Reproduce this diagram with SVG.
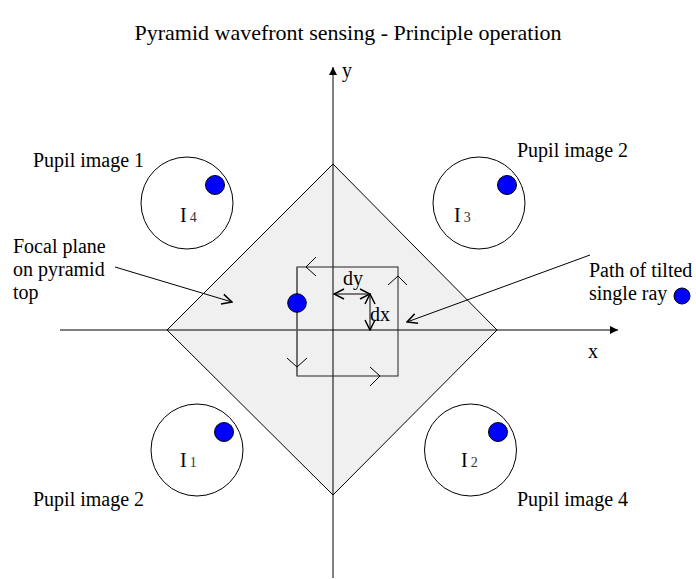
<svg xmlns="http://www.w3.org/2000/svg" width="696" height="579" viewBox="0 0 696 579">
<style>
text{font-family:"Liberation Serif","Times New Roman",serif;font-size:20px;fill:#000}
.title{font-size:22px}
.sub{font-size:14px;fill:#333}
.ln{stroke:#000;stroke-width:1;fill:none}
.dot{fill:#0000ff;stroke:#000;stroke-width:1}
.ring{fill:#fff;stroke:#000;stroke-width:1}
</style>
<defs>
<marker id="tri" viewBox="0 0 10 10" refX="10" refY="5" markerWidth="11" markerHeight="8" markerUnits="userSpaceOnUse" orient="auto">
<path d="M0,0L10,5L0,10Z" fill="#000"/>
</marker>
<marker id="open" viewBox="0 0 12 12" refX="11" refY="6" markerWidth="12" markerHeight="12" markerUnits="userSpaceOnUse" orient="auto-start-reverse">
<path d="M1,1L11,6L1,11" fill="none" stroke="#000" stroke-width="1.5"/>
</marker>
</defs>
<text class="title" x="348" y="40" text-anchor="middle">Pyramid wavefront sensing - Principle operation</text>
<g id="pyramid">
<path d="M333,164L497,330L333,495L167,330Z" fill="#f0f0f0" stroke="#000" stroke-width="1"/>
</g>
<g id="pupil1">
<circle class="ring" cx="187" cy="203" r="46"/>
<circle class="dot" cx="215" cy="185" r="9.5"/>
<text x="180" y="222">I<tspan class="sub" dx="3">4</tspan></text>
<text x="33" y="167">Pupil image 1</text>
</g>
<g id="pupil2-top">
<circle class="ring" cx="479" cy="203" r="46"/>
<circle class="dot" cx="507" cy="185" r="9.5"/>
<text x="454" y="222">I<tspan class="sub" dx="3">3</tspan></text>
<text x="517" y="157">Pupil image 2</text>
</g>
<g id="pupil2-bottom">
<circle class="ring" cx="197" cy="450" r="46"/>
<circle class="dot" cx="224" cy="432" r="9.5"/>
<text x="180" y="467">I<tspan class="sub" dx="3">1</tspan></text>
<text x="33" y="506">Pupil image 2</text>
</g>
<g id="pupil4">
<circle class="ring" cx="470.5" cy="450" r="46"/>
<circle class="dot" cx="498" cy="432" r="9.5"/>
<text x="461" y="467">I<tspan class="sub" dx="3">2</tspan></text>
<text x="517" y="506">Pupil image 4</text>
</g>
<g id="axes">
<line class="ln" x1="333" y1="578" x2="333" y2="67" marker-end="url(#tri)"/>
<line class="ln" x1="60" y1="330" x2="618" y2="330" marker-end="url(#tri)"/>
<text x="342" y="77">y</text>
<text x="588" y="358">x</text>
</g>
<g id="ray-path">
<rect x="297" y="267" width="101" height="109" fill="none" stroke="#222" stroke-width="1"/>
<line x1="297" y1="267" x2="297" y2="376" stroke="#666" stroke-width="1.5"/>
<path class="ln" d="M316,257L306,267L316,276"/>
<path class="ln" d="M388,285L398,276L407,285"/>
<path class="ln" d="M370,367L380,376L370,386"/>
<path class="ln" d="M287,358L297,367L307,358"/>
<circle class="dot" cx="297" cy="303" r="9.3"/>
</g>
<g id="connectors">
<line class="ln" x1="334" y1="294" x2="370" y2="294" marker-start="url(#open)" marker-end="url(#open)"/>
<line class="ln" x1="370" y1="294" x2="370" y2="330" marker-start="url(#open)" marker-end="url(#open)"/>
<line class="ln" x1="115" y1="267" x2="232" y2="302" marker-end="url(#open)"/>
<line class="ln" x1="590" y1="255" x2="407" y2="322" marker-end="url(#open)"/>
</g>
<g id="labels">
<text x="343" y="285">dy</text>
<text x="370" y="321">dx</text>
<text x="13" y="253">Focal plane</text>
<text x="13" y="276">on pyramid</text>
<text x="13" y="299">top</text>
<text x="589" y="277">Path of tilted</text>
<text x="589" y="300">single ray</text>
<circle class="dot" cx="682" cy="296" r="8"/>
</g>
</svg>
